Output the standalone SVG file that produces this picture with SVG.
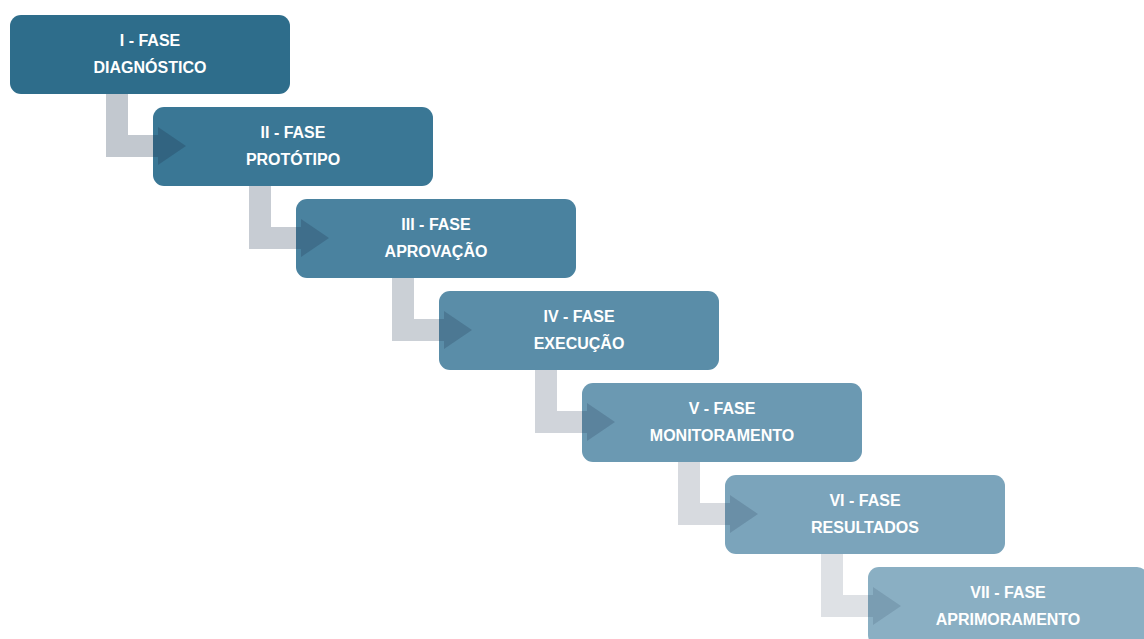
<svg xmlns="http://www.w3.org/2000/svg" width="1144" height="639" viewBox="0 0 1144 639">
<style>
.box{stroke:none}
.t{font-family:"Liberation Sans",Arial,sans-serif;font-weight:bold;font-size:16px;fill:#ffffff;text-anchor:middle}
.c{fill:#1f344e}
</style>
<defs>
<path id="conn" d="M96 79 L118 79 L118 120 L148 120 L148 112 L176 131 L148 150 L148 142 L96 142 Z"/>
</defs>
<rect width="1144" height="639" fill="#ffffff"/>
<g id="n1"><rect class="box" x="10" y="15" width="280" height="79" rx="11" fill="#2e6d8b"/><text class="t" x="150" y="46">I - FASE</text><text class="t" x="150" y="73">DIAGNÓSTICO</text></g>
<g id="n2"><rect class="box" x="153" y="107" width="280" height="79" rx="11" fill="#3a7795"/><text class="t" x="293" y="138">II - FASE</text><text class="t" x="293" y="165">PROTÓTIPO</text></g>
<g id="n3"><rect class="box" x="296" y="199" width="280" height="79" rx="11" fill="#4a829f"/><text class="t" x="436" y="230">III - FASE</text><text class="t" x="436" y="257">APROVAÇÃO</text></g>
<g id="n4"><rect class="box" x="439" y="291" width="280" height="79" rx="11" fill="#5a8da8"/><text class="t" x="579" y="322">IV - FASE</text><text class="t" x="579" y="349">EXECUÇÃO</text></g>
<g id="n5"><rect class="box" x="582" y="383" width="280" height="79" rx="11" fill="#6b99b2"/><text class="t" x="722" y="414">V - FASE</text><text class="t" x="722" y="441">MONITORAMENTO</text></g>
<g id="n6"><rect class="box" x="725" y="475" width="280" height="79" rx="11" fill="#7ba4bb"/><text class="t" x="865" y="506">VI - FASE</text><text class="t" x="865" y="533">RESULTADOS</text></g>
<g id="n7"><rect class="box" x="868" y="567" width="280" height="79" rx="11" fill="#8aafc3"/><text class="t" x="1008" y="598">VII - FASE</text><text class="t" x="1008" y="625">APRIMORAMENTO</text></g>
<g id="connectors">
<use href="#conn" class="c" x="10" y="15" opacity="0.27"/>
<use href="#conn" class="c" x="153" y="107" opacity="0.25"/>
<use href="#conn" class="c" x="296" y="199" opacity="0.23"/>
<use href="#conn" class="c" x="439" y="291" opacity="0.21"/>
<use href="#conn" class="c" x="582" y="383" opacity="0.18"/>
<use href="#conn" class="c" x="725" y="475" opacity="0.15"/>
</g>
</svg>
